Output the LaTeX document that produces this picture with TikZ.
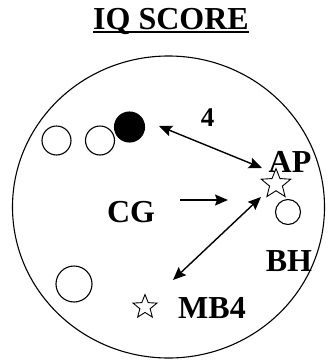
\documentclass[tikz,border=0pt]{standalone}
\usepackage{fontspec}
\setmainfont{Liberation Serif}
\usetikzlibrary{arrows.meta,shapes.geometric}
\begin{document}
\begin{tikzpicture}[x=1pt,y=-1pt,
  lbl/.style={font=\fontsize{32}{34}\selectfont\bfseries, inner sep=0pt, anchor=base},
  dot/.style={circle, draw, line width=1.1pt, minimum size=#1, inner sep=0pt},
  starmark/.style={star, star points=5, star point ratio=2.3, draw, line width=0.9pt, minimum size=#1, inner sep=0pt},
  link/.style={line width=1.4pt},
  tip/.style={-{Stealth[length=13pt,width=11pt,inset=2pt]}},
  bothtips/.style={{Stealth[length=13pt,width=11pt,inset=2pt]}-{Stealth[length=13pt,width=11pt,inset=2pt]}}]
\useasboundingbox (0,0) rectangle (331,362);

% heading
\node[lbl] (title) at (171,29) {IQ SCORE};
\path (title.base west) ++(0,3) coordinate (ul1) (title.base east) ++(0,3) coordinate (ul2);
\draw[line width=1.3pt] (ul1) -- (ul2);

% outer boundary
\node[ellipse, draw, line width=1.1pt, minimum width=312pt, minimum height=302pt, inner sep=0pt] (field) at (168.5,207) {};

% circles
\node[dot=29pt] (c1) at (56.5,140.5) {};
\node[dot=29pt] (c2) at (100,140.5) {};
\node[dot=30pt, fill=black] (c3) at (129.5,127) {};
\node[dot=25pt] (c4) at (288,212) {};
\node[dot=36pt] (c5) at (74,284) {};

% stars
\node[starmark=31pt] (s1) at (276,184) {};
\node[starmark=25pt] (s2) at (145,307) {};

% labels
\node[lbl, font=\fontsize{27}{29}\selectfont\bfseries] (four) at (207.5,126) {4};
\node[lbl] (ap) at (290,172) {AP};
\node[lbl] (cg) at (131,222) {CG};
\node[lbl] (bh) at (289,271) {BH};
\node[lbl] (mb) at (212,318) {MB4};

% arrow end points
\coordinate (a1) at (159,126);
\coordinate (a2) at (262,168);
\coordinate (b1) at (180,200);
\coordinate (b2) at (228,200);
\coordinate (d1) at (261,197);
\coordinate (d2) at (173,280);

\draw[link, bothtips] (a1) -- (a2);
\draw[link, tip] (b1) -- (b2);
\draw[link, bothtips] (d1) -- (d2);
\end{tikzpicture}
\end{document}
